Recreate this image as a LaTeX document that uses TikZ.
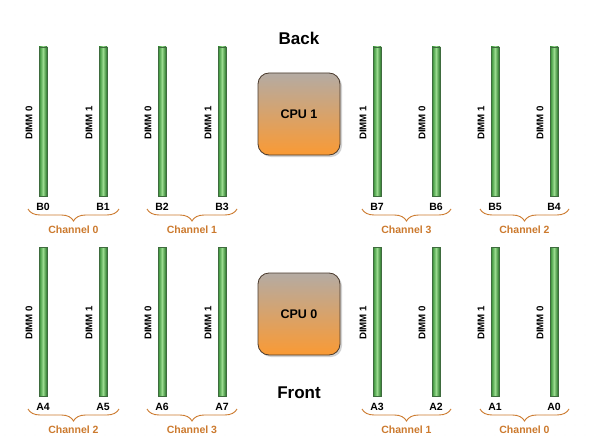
\documentclass[tikz,border=0pt]{standalone}
\usepackage{fontspec}
\setmainfont{Liberation Sans}
\usetikzlibrary{decorations.pathreplacing,shadows}
\definecolor{gdark}{HTML}{2F8A2F}
\definecolor{glight}{HTML}{9ADB8F}
\definecolor{gedge}{HTML}{3E6B3E}
\definecolor{chan}{HTML}{CC7A2E}
\definecolor{cputop}{HTML}{B4ABA3}
\definecolor{cpubot}{HTML}{FA9A34}
\definecolor{cpuedge}{HTML}{4A3A2C}
\tikzset{
  x=1pt,y=-1pt,
  dimmbar/.style={draw=gedge,line width=0.6pt,minimum width=8pt,minimum height=149pt,inner sep=0pt,
    left color=gdark,right color=gdark!85!black,middle color=glight,shading angle=90},
  dimmlbl/.style={rotate=90,font=\bfseries\fontsize{9.7}{10}\selectfont,inner sep=0pt},
  slotlbl/.style={font=\bfseries\fontsize{10.5}{11}\selectfont,inner sep=0pt},
  chbrace/.style={draw=chan,line width=0.9pt,decorate,decoration={brace,mirror,amplitude=12pt}},
  chlbl/.style={text=chan,font=\bfseries\fontsize{10.5}{11}\selectfont,inner sep=0pt},
  cpubox/.style={draw=cpuedge,line width=0.8pt,rounded corners=11pt,minimum width=82pt,minimum height=82pt,
    top color=cputop,bottom color=cpubot,font=\bfseries\fontsize{12.5}{13}\selectfont,
    drop shadow={shadow xshift=2pt,shadow yshift=-2pt,fill=black!35,opacity=0.5}},
  sidelbl/.style={font=\bfseries\fontsize{17}{18}\selectfont,inner sep=0pt},
}
\begin{document}
\begin{tikzpicture}
\useasboundingbox[fill=white] (0,0) rectangle (592,444);
% faint grid
\foreach \gx in {5,15,...,590} \foreach \gy in {5,15,...,440} \fill[black!7] (\gx,\gy) circle (0.35pt);

\node[sidelbl] (back) at (299,38) {Back};
\node[sidelbl] (front) at (299,393) {Front};
\node[cpubox] (cpu1) at (299,114) {CPU 1};
\node[cpubox] (cpu0) at (299,314) {CPU 0};

% DIMM bars: name / x / row offset / dimm label / slot label
\foreach \n/\xx/\yy/\d/\s in {
  b0/43/0/0/B0, b1/103/0/1/B1, b2/162/0/0/B2, b3/222/0/1/B3,
  b7/377/0/1/B7, b6/436/0/0/B6, b5/495/0/1/B5, b4/554/0/0/B4,
  a4/43/200/0/A4, a5/103/200/1/A5, a6/162/200/0/A6, a7/222/200/1/A7,
  a3/377/200/1/A3, a2/436/200/0/A2, a1/495/200/1/A1, a0/554/200/0/A0} {
  \node[dimmbar] (\n) at (\xx,121.5+\yy) {};
  \node[dimmlbl] (\n d) at (\xx-14,123+\yy) {DIMM \d};
  \node[slotlbl] (\n s) at (\xx,207+\yy) {\s};
}

% channel braces
\foreach \l/\r/\yy/\c/\nm in {
  28/119/0/0/c0t, 147/237/0/1/c1t, 362/451/0/3/c3t, 480/569/0/2/c2t,
  28/119/200/2/c2b, 147/237/200/3/c3b, 362/451/200/1/c1b, 480/569/200/0/c0b} {
  \coordinate (\nm l) at (\l,209+\yy);
  \coordinate (\nm r) at (\r,209+\yy);
  \draw[chbrace] (\nm l) -- (\nm r);
  \node[chlbl] (\nm) at ({(\l+\r)/2},230+\yy) {Channel \c};
}
\end{tikzpicture}
\end{document}
